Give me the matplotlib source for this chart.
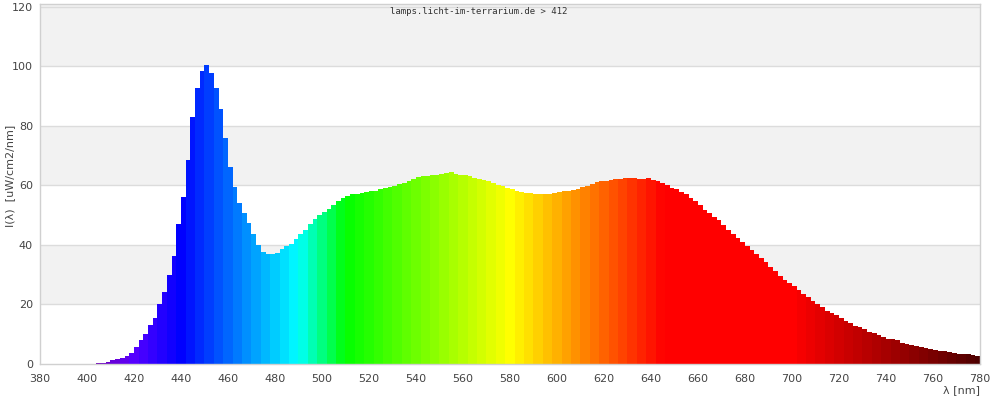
import numpy as np
import matplotlib
matplotlib.use("Agg")
import matplotlib.pyplot as plt

# spectrum, 2 nm steps
wavelengths = list(range(404, 782, 2))
intensity = [
    0.2, 0.4, 0.6, 1.2, 1.6, 2.0, 2.8, 3.8, 5.8, 8.0,            # 404-422
    10.2, 13.0, 15.5, 20.0, 24.3, 30.0, 36.4, 47.0, 56.0, 68.5,  # 424-442
    83.0, 92.5, 98.5, 100.5, 97.8, 92.5, 85.5, 76.0, 66.0, 59.5, # 444-462
    54.0, 50.7, 47.2, 43.5, 39.8, 37.6, 36.8, 36.8, 37.3, 38.7,  # 464-482
    39.6, 40.4, 42.0, 43.5, 45.1, 46.9, 48.7, 49.9, 51.2, 52.2,  # 484-502
    53.3, 54.6, 55.7, 56.4, 57.0, 57.1, 57.4, 57.7, 58.0, 58.2,  # 504-522
    58.7, 59.2, 59.3, 59.7, 60.3, 60.8, 61.5, 62.1, 62.7, 63.0,  # 524-542
    63.2, 63.4, 63.6, 63.7, 64.0, 64.3, 63.7, 63.5, 63.3, 63.1,  # 544-562
    62.6, 62.0, 61.8, 61.3, 60.7, 60.1, 59.6, 59.2, 58.8, 58.2,  # 564-582
    57.8, 57.5, 57.3, 57.2, 57.1, 57.0, 57.1, 57.5, 57.8, 58.0,  # 584-602
    58.2, 58.4, 58.7, 59.3, 59.9, 60.5, 61.0, 61.3, 61.6, 61.8,  # 604-622
    62.0, 62.2, 62.4, 62.4, 62.3, 62.0, 62.0, 62.4, 61.8, 61.3,  # 624-642
    60.7, 60.0, 59.2, 58.6, 57.9, 57.0, 55.9, 54.7, 53.3, 51.8,  # 644-662
    50.6, 49.4, 48.2, 46.6, 45.1, 43.6, 42.2, 41.0, 39.7, 38.2,  # 664-682
    36.9, 35.6, 34.1, 32.6, 31.2, 29.6, 28.3, 27.3, 26.3, 24.8,  # 684-702
    23.5, 22.6, 21.2, 20.2, 19.0, 17.8, 17.0, 16.4, 15.5, 14.6,  # 704-722
    13.6, 12.7, 12.5, 11.8, 10.9, 10.3, 9.7, 9.2, 8.5, 8.3,      # 724-742
    7.9, 7.2, 6.7, 6.3, 5.9, 5.7, 5.4, 5.0, 4.6, 4.3,            # 744-762
    4.2, 4.1, 3.7, 3.4, 3.3, 3.3, 3.0, 2.8, 2.6,                 # 764-780
]

x_ticks = list(range(380, 781, 20))
y_ticks = list(range(0, 121, 20))
title = "lamps.licht-im-terrarium.de > 412"


def wavelength_color(wl):
    """Approximate visible colour of a wavelength (Bruton style)"""
    wl = 4 * np.ceil(wl / 4.0)
    if wl < 440:
        r, g, b = (440 - wl) / 60.0, 0.0, 1.0
    elif wl < 490:
        r, g, b = 0.0, (wl - 440) / 50.0, 1.0
    elif wl < 510:
        r, g, b = 0.0, 1.0, (510 - wl) / 20.0
    elif wl < 580:
        r, g, b = (wl - 510) / 70.0, 1.0, 0.0
    elif wl < 645:
        r, g, b = 1.0, (645 - wl) / 65.0, 0.0
    else:
        r, g, b = 1.0, 0.0, 0.0
    if wl < 420:
        f = 0.3 + 0.7 * (wl - 380) / 40.0
    elif wl > 700:
        f = 0.3 + 0.7 * (780 - wl) / 80.0
    else:
        f = 1.0
    return (min(r * f, 1), min(g * f, 1), min(b * f, 1))


fig = plt.figure(figsize=(10, 4), dpi=100)
ax = fig.add_axes([0.04, 0.09, 0.94, 0.901])

# alternating background bands
for i, lo in enumerate(y_ticks[:-1]):
    if i % 2 == 1:
        ax.axhspan(lo, lo + 20, color="#f2f2f2", zorder=0, lw=0)
ax.axhspan(120, 121, color="#f2f2f2", zorder=0, lw=0)
for y in y_ticks[1:]:
    ax.axhline(y, color="#dcdcdc", lw=1, zorder=1)

colors = [wavelength_color(w) for w in wavelengths]
ax.bar(wavelengths, intensity, width=2.0, align="edge", color=colors,
       linewidth=0, zorder=2)

ax.set_xlim(380, 780)
ax.set_ylim(0, 121)
ax.set_xticks(x_ticks)
ax.set_yticks(y_ticks)
ax.tick_params(length=0, labelsize=8, colors="#444444", pad=7)
ax.tick_params(axis="y", pad=5)
for side in ax.spines.values():
    side.set_color("#d0d0d0")
    side.set_linewidth(1)

fig.text(0.39, 0.97, title, fontsize=6.5, family="DejaVu Sans Mono",
         color="#333333", ha="left", va="center")
fig.text(0.010, 0.56, "I(\u03bb)  [uW/cm2/nm]", rotation=90, fontsize=8,
         color="#444444", ha="center", va="center")
fig.text(0.98, 0.012, "\u03bb [nm]", fontsize=8, color="#444444",
         ha="right", va="bottom")

fig.savefig("out.png", dpi=100)
